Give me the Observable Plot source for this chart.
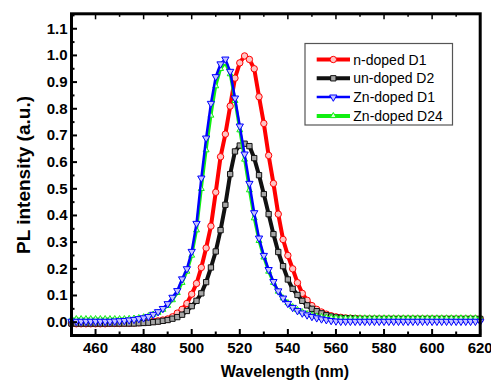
<!DOCTYPE html>
<html><head><meta charset="utf-8">
<script src="https://cdn.jsdelivr.net/npm/d3@7"></script>
<script src="https://cdn.jsdelivr.net/npm/@observablehq/plot@0.6"></script>
<style>
html,body{margin:0;padding:0;background:#fff;}
#chart{position:relative;width:491px;height:382px;}
</style></head><body><div id="chart"></div>
<script>
// Wavelength sampling (nm)
const wavelength = [450,452,454,456,458,460,462,464,466,468,470,472,474,476,478,480,482,484,486,488,490,492,494,496,498,500,502,504,506,508,510,512,514,516,518,520,522,524,526,528,530,532,534,536,538,540,542,544,546,548,550,552,554,556,558,560,562,564,566,568,570,572,574,576,578,580,582,584,586,588,590,592,594,596,598,600,602,604,606,608,610,612,614,616,618,620];

// PL intensity (a.u.)
const nDopedD1 = [-0.006,-0.006,-0.006,-0.006,-0.006,-0.006,-0.006,-0.006,-0.005,-0.005,-0.005,-0.004,-0.004,-0.003,-0.002,0.000,0.001,0.003,0.005,0.008,0.012,0.020,0.034,0.048,0.070,0.105,0.145,0.205,0.278,0.360,0.487,0.620,0.705,0.810,0.915,0.972,0.998,0.985,0.950,0.845,0.745,0.625,0.520,0.405,0.310,0.250,0.200,0.148,0.108,0.082,0.062,0.048,0.038,0.030,0.024,0.020,0.018,0.016,0.015,0.014,0.013,0.012,0.012,0.012,0.012,0.012,0.012,0.012,0.012,0.012,0.012,0.012,0.012,0.012,0.012,0.012,0.012,0.012,0.012,0.012,0.012,0.012,0.012,0.012,0.012,0.012];
const unDopedD2 = [-0.005,-0.005,-0.005,-0.005,-0.005,-0.005,-0.005,-0.005,-0.005,-0.005,-0.005,-0.005,-0.005,-0.005,-0.004,-0.003,-0.002,0.000,0.002,0.005,0.008,0.013,0.019,0.028,0.042,0.060,0.080,0.108,0.150,0.205,0.265,0.345,0.440,0.555,0.640,0.662,0.669,0.660,0.615,0.551,0.480,0.405,0.330,0.263,0.210,0.160,0.125,0.102,0.080,0.063,0.050,0.041,0.033,0.026,0.021,0.018,0.016,0.015,0.014,0.013,0.012,0.012,0.012,0.012,0.012,0.012,0.012,0.012,0.012,0.012,0.012,0.012,0.012,0.012,0.012,0.012,0.012,0.012,0.012,0.012,0.012,0.012,0.012,0.012,0.012,0.012];
const znDopedD1 = [0.003,0.003,0.003,0.003,0.003,0.003,0.003,0.003,0.003,0.004,0.005,0.006,0.008,0.010,0.013,0.016,0.021,0.029,0.039,0.051,0.069,0.093,0.118,0.162,0.200,0.265,0.370,0.540,0.690,0.820,0.920,0.968,0.986,0.940,0.840,0.735,0.630,0.520,0.410,0.315,0.250,0.197,0.152,0.117,0.090,0.070,0.055,0.043,0.034,0.027,0.021,0.016,0.012,0.009,0.006,0.004,0.003,0.003,0.003,0.003,0.003,0.003,0.003,0.003,0.003,0.003,0.003,0.003,0.003,0.003,0.003,0.003,0.003,0.003,0.003,0.003,0.003,0.003,0.003,0.003,0.003,0.003,0.003,0.003,0.003,0.003];
const znDopedD24 = [0.012,0.012,0.012,0.012,0.012,0.012,0.012,0.012,0.012,0.012,0.012,0.012,0.013,0.014,0.016,0.019,0.023,0.029,0.036,0.047,0.062,0.083,0.110,0.148,0.190,0.250,0.345,0.500,0.645,0.775,0.885,0.950,0.972,0.930,0.830,0.720,0.610,0.495,0.390,0.305,0.243,0.190,0.148,0.115,0.090,0.072,0.057,0.046,0.038,0.031,0.026,0.022,0.020,0.018,0.017,0.016,0.015,0.015,0.015,0.015,0.015,0.015,0.015,0.015,0.015,0.015,0.015,0.015,0.015,0.015,0.015,0.015,0.015,0.015,0.015,0.015,0.015,0.015,0.015,0.015,0.015,0.015,0.015,0.015,0.015,0.015];

const seriesNames = ["n-doped D1", "un-doped D2", "Zn-doped D1", "Zn-doped D24"];
const seriesValues = [nDopedD1, unDopedD2, znDopedD1, znDopedD24];

const xTickValues = [460, 480, 500, 520, 540, 560, 580, 600, 620];
const xMinorTicks = [450, 470, 490, 510, 530, 550, 570, 590, 610];
const yTickValues = [0.0, 0.1, 0.2, 0.3, 0.4, 0.5, 0.6, 0.7, 0.8, 0.9, 1.0, 1.1];
const yMinorTicks = [0.05, 0.15, 0.25, 0.35, 0.45, 0.55, 0.65, 0.75, 0.85, 0.95, 1.05, 1.15];
const xTitle = "Wavelength (nm)";
const yTitle = "PL intensity (a.u.)";

// styling
const seriesStyle = [
  {color: "#ff0000", width: 4,   symbol: "circle",   fill: "#ffc4c4", r: 3.2, rotate: 0},
  {color: "#111111", width: 4,   symbol: "square",   fill: "#a6a6a6", r: 3.0, rotate: 0},
  {color: "#0000ff", width: 2.5, symbol: "triangle", fill: "#c4c4ff", r: 2.7, rotate: 180},
  {color: "#11ee11", width: 3,   symbol: "triangle", fill: "#d4ffd4", r: 2.2, rotate: 0}
];
const drawOrder = [0, 1, 3, 2];

const W = 491, H = 382;
const mL = 71, mR = 11.3, mT = 13.3, mB = 47;
const innerH = H - mT - mB, innerW = W - mL - mR;
const FONT = "'Liberation Sans', Arial, Helvetica, sans-serif";

const rowsBySeries = seriesValues.map((vals, s) =>
  wavelength.map((w, i) => ({wavelength: w, value: vals[i], series: seriesNames[s]})));

const marks = [];
for (const s of drawOrder) {
  const st = seriesStyle[s];
  marks.push(Plot.line(rowsBySeries[s], {x: "wavelength", y: "value", stroke: st.color, strokeWidth: st.width}));
  marks.push(Plot.dot(rowsBySeries[s], {x: "wavelength", y: "value", symbol: st.symbol, r: st.r, rotate: st.rotate, fill: st.fill, stroke: st.color, strokeWidth: 1}));
}
// inward ticks
marks.push(Plot.ruleX(xTickValues, {x: d => d, insetTop: innerH - 6, stroke: "#000", strokeWidth: 2}));
marks.push(Plot.ruleX(xMinorTicks, {x: d => d, insetTop: innerH - 3.5, stroke: "#000", strokeWidth: 2}));
marks.push(Plot.ruleX(xTickValues, {x: d => d, insetBottom: innerH - 6, stroke: "#000", strokeWidth: 1.5}));
marks.push(Plot.ruleX(xMinorTicks, {x: d => d, insetBottom: innerH - 3.5, stroke: "#000", strokeWidth: 1.5}));
marks.push(Plot.ruleY(yTickValues, {y: d => d, insetRight: innerW - 6, stroke: "#000", strokeWidth: 2}));
marks.push(Plot.ruleY(yMinorTicks, {y: d => d, insetRight: innerW - 3.5, stroke: "#000", strokeWidth: 2}));
marks.push(Plot.axisX(xTickValues, {anchor: "bottom", tickSize: 0, tickPadding: 7, fontSize: 15, fontWeight: "bold", label: null}));
marks.push(Plot.axisY(yTickValues, {anchor: "left", tickSize: 0, tickPadding: 4, fontSize: 15, fontWeight: "bold", tickFormat: d => d.toFixed(1), label: null}));
marks.push(Plot.frame({stroke: "#000", strokeWidth: 3}));

const chart = Plot.plot({
  width: W, height: H,
  marginLeft: mL, marginRight: mR, marginTop: mT, marginBottom: mB,
  x: {domain: [450, 620], axis: null},
  y: {domain: [-0.05, 1.156], axis: null},
  style: {fontFamily: FONT, background: "#fff", color: "#000", fontWeight: "bold"},
  marks
});
document.getElementById("chart").appendChild(chart);

const svg = d3.select(chart);
// axis titles
svg.append("text").attr("x", 285).attr("y", 377).attr("text-anchor", "middle")
  .attr("font-family", FONT).attr("font-size", 16).attr("font-weight", "bold").attr("fill", "#000").text(xTitle);
svg.append("text").attr("transform", "translate(30,175) rotate(-90)").attr("text-anchor", "middle")
  .attr("font-family", FONT).attr("font-size", 19).attr("font-weight", "bold").attr("fill", "#000").text(yTitle);

// legend
const lg = svg.append("g");
lg.append("rect").attr("x", 305).attr("y", 43.5).attr("width", 147.5).attr("height", 81.5)
  .attr("fill", "#fff").attr("stroke", "#555").attr("stroke-width", 1.2);
const symMap = {circle: d3.symbolCircle, square: d3.symbolSquare, triangle: d3.symbolTriangle};
seriesNames.forEach((name, i) => {
  const st = seriesStyle[i];
  const cy = 59.5 + i * 18.8;
  lg.append("line").attr("x1", 316.7).attr("x2", 350).attr("y1", cy).attr("y2", cy)
    .attr("stroke", st.color).attr("stroke-width", st.width === 2.5 ? 2.5 : 4);
  lg.append("path").attr("d", d3.symbol().type(symMap[st.symbol]).size(Math.PI * st.r * st.r)())
    .attr("transform", `translate(333.3,${cy}) rotate(${st.rotate})`)
    .attr("fill", st.fill).attr("stroke", st.color).attr("stroke-width", 1);
  lg.append("text").attr("x", 353.3).attr("y", cy + 5).attr("text-anchor", "start")
    .attr("font-family", FONT).attr("font-size", 14)
    .attr("font-weight", "normal").attr("fill", "#000").text(name);
});
</script></body></html>
